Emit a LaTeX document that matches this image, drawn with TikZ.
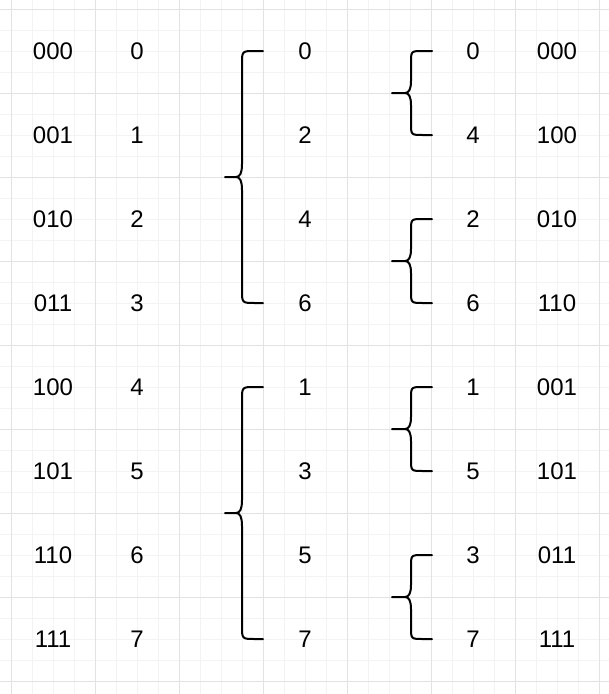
\documentclass[tikz,border=0pt]{standalone}
\usepackage{fontspec}
\setmainfont{Liberation Sans}
\definecolor{minorg}{HTML}{F3F3F3}
\definecolor{majorg}{HTML}{E2E2E2}
\tikzset{
  lbl/.style={font=\fontsize{24}{28}\selectfont, inner sep=0pt, anchor=center},
  bracestyle/.style={line width=2pt, line join=round, line cap=round, black},
  minorline/.style={minorg, line width=0.8pt},
  majorline/.style={majorg, line width=1pt}
}
% #1 end x, #2 spine x, #3 tip x, #4 top y, #5 bottom y, #6 radius
\newcommand\curlybr[6]{%
  \draw[bracestyle] (#1,#4) -- ({#2+#6},#4) .. controls (#2,#4) .. (#2,{#4+#6})
    -- (#2,{(#4+#5)/2-#6}) .. controls (#2,{(#4+#5)/2-4}) and ({#2-2},{(#4+#5)/2}) .. ({#2-6},{(#4+#5)/2})
    -- (#3,{(#4+#5)/2})
    -- ({#2-6},{(#4+#5)/2}) .. controls ({#2-2},{(#4+#5)/2}) and (#2,{(#4+#5)/2+4}) .. (#2,{(#4+#5)/2+#6})
    -- (#2,{#5-#6}) .. controls (#2,#5) .. ({#2+#6},#5) -- (#1,#5);}
\begin{document}
\begin{tikzpicture}[x=1pt,y=-1pt]
\useasboundingbox (0,0) rectangle (609,694);
\fill[white] (0,0) rectangle (609,694);
% grid
\foreach \i in {0,...,28} \draw[minorline] ({11+21*\i},0) -- ({11+21*\i},694);
\foreach \j in {0,...,32} \draw[minorline] (0,{9+21*\j}) -- (609,{9+21*\j});
\foreach \i in {0,...,7} \draw[majorline] ({11+84*\i},0) -- ({11+84*\i},694);
\foreach \j in {0,...,8} \draw[majorline] (0,{9+84*\j}) -- (609,{9+84*\j});
% columns of text
\foreach \t [count=\k from 0] in {000,001,010,011,100,101,110,111}
  \node[lbl] (a\k) at (53,{51+84*\k}) {\t};
\foreach \t [count=\k from 0] in {0,1,2,3,4,5,6,7}
  \node[lbl] (b\k) at (137,{51+84*\k}) {\t};
\foreach \t [count=\k from 0] in {0,2,4,6,1,3,5,7}
  \node[lbl] (c\k) at (305,{51+84*\k}) {\t};
\foreach \t [count=\k from 0] in {0,4,2,6,1,5,3,7}
  \node[lbl] (d\k) at (473,{51+84*\k}) {\t};
\foreach \t [count=\k from 0] in {000,100,010,110,001,101,011,111}
  \node[lbl] (e\k) at (557,{51+84*\k}) {\t};
% big braces
\curlybr{263}{242}{225}{51}{303}{13}
\curlybr{263}{242}{225}{387}{639}{13}
% small braces
\curlybr{432}{411}{392}{51}{135}{12}
\curlybr{432}{411}{392}{219}{303}{12}
\curlybr{432}{411}{392}{387}{471}{12}
\curlybr{432}{411}{392}{555}{639}{12}
\end{tikzpicture}
\end{document}
